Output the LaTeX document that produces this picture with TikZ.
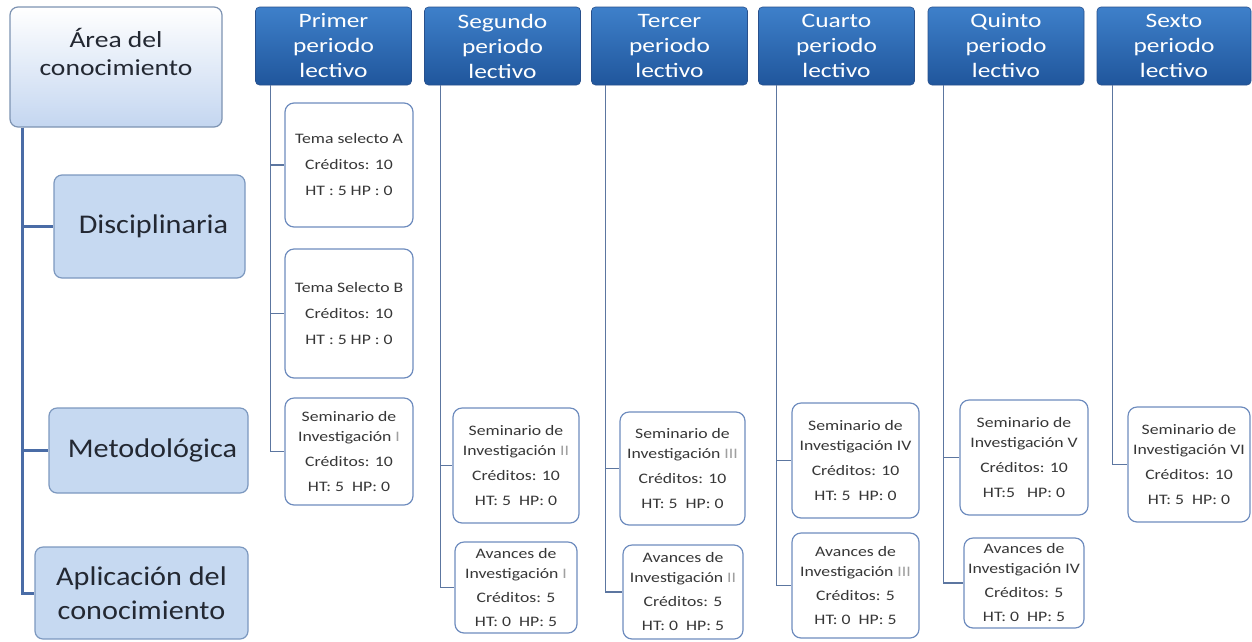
\documentclass[tikz,border=0pt]{standalone}
\usepackage{fontspec}
\setmainfont{Carlito}
\newfontfamily\crsfont[FakeStretch=1.22]{Carlito}
\newfontfamily\hdrfont[FakeStretch=1.24]{Carlito}
\newfontfamily\areafont[FakeStretch=1.2]{Carlito}
\newfontfamily\leftfont[FakeStretch=1.12]{Carlito}
\usetikzlibrary{calc}
\definecolor{hdrtop}{RGB}{62,128,202}
\definecolor{hdrbot}{RGB}{32,86,156}
\definecolor{hdrline}{RGB}{40,80,140}
\definecolor{lefill}{RGB}{198,217,241}
\definecolor{leline}{RGB}{124,152,191}
\definecolor{areabot}{RGB}{196,214,240}
\definecolor{crsline}{RGB}{110,140,190}
\definecolor{colline}{RGB}{92,118,160}
\definecolor{trunk}{RGB}{74,108,166}
\definecolor{txtdark}{RGB}{35,40,50}
\definecolor{crstxt}{RGB}{55,55,55}
\definecolor{numgray}{RGB}{160,160,160}
\newcommand{\gr}[1]{\textcolor{numgray}{#1}}
\begin{document}
\begin{tikzpicture}[x=1pt,y=-1pt,
  hdr/.style={rounded corners=4pt, top color=hdrtop, bottom color=hdrbot, draw=hdrline, line width=0.6pt,
    text=white, font={\hdrfont\fontsize{20.5}{25}\selectfont}, align=center, inner sep=0pt,
    minimum width=156pt, minimum height=78pt},
  areabox/.style={rounded corners=8pt, top color=white, bottom color=areabot, draw=leline!80!gray, line width=1.2pt,
    text=txtdark, font={\areafont\fontsize{23}{28}\selectfont}, inner sep=0pt},
  lbox/.style={rounded corners=8pt, fill=lefill, draw=leline, line width=1.2pt,
    text=txtdark, font={\leftfont\fontsize{27}{34}\selectfont}, align=center, inner sep=0pt},
  crs/.style={rounded corners=9pt, fill=white, draw=crsline, line width=1.2pt,
    text=crstxt, align=center, inner sep=0pt},
  tfont/.style={font={\crsfont\fontsize{14.5}{26}\selectfont}},
  sfont/.style={font={\crsfont\fontsize{14.5}{20}\selectfont}},
  col/.style={draw=colline, line width=1.3pt},
  trk/.style={draw=trunk, line width=3pt}
]
\useasboundingbox (0,0) rectangle (1252,641);

% left side
\node[areabox, minimum width=212pt, minimum height=120pt] (area) at (116,67)
  {\parbox[c][78pt][t]{200pt}{\centering Área del\\conocimiento}};
\node[lbox, minimum width=191pt, minimum height=103pt] (dis) at (149.5,226.5) {\hspace*{8pt}Disciplinaria};
\node[lbox, minimum width=199pt, minimum height=85pt] (met) at (148.5,450.5) {\hspace*{8pt}Metodológica};
\node[lbox, minimum width=213pt, minimum height=92pt] (apl) at (141.5,593) {Aplicación del\\conocimiento};

\coordinate (tr) at ($(area.south west)+(13,0)$);
\draw[trk] (tr) |- (dis.west);
\draw[trk] (tr) |- (met.west);
\draw[trk] (tr) |- (apl.west);

% headers
\node[hdr] (h1) at (333.5,46) {Primer\\periodo\\lectivo};
\node[hdr] (h2) at (502.5,46) {Segundo\\periodo\\lectivo};
\node[hdr] (h3) at (669.5,46) {Tercer\\periodo\\lectivo};
\node[hdr] (h4) at (836.5,46) {Cuarto\\periodo\\lectivo};
\node[hdr] (h5) at (1006,46) {Quinto\\periodo\\lectivo};
\node[hdr, minimum width=154pt] (h6) at (1174,46) {Sexto\\periodo\\lectivo};

% course boxes
\node[crs, tfont, minimum width=128pt, minimum height=124pt] (tA) at (349,165) {Tema selecto A\\Créditos: 10\\HT : 5 HP : 0};
\node[crs, tfont, minimum width=128pt, minimum height=129pt] (tB) at (349,313.5) {Tema Selecto B\\Créditos: 10\\HT : 5 HP : 0};
\node[crs, sfont, minimum width=128pt, minimum height=107pt] (s1) at (349,451.5) {Seminario de\\Investigación \gr{I}\\[5pt]Créditos: 10\\[5pt]HT: 5~~HP: 0};

\node[crs, sfont, minimum width=126pt, minimum height=115pt] (s2) at (516,465.5) {Seminario de\\Investigación \gr{II}\\[5pt]Créditos: 10\\[5pt]HT: 5~~HP: 0};
\node[crs, sfont, minimum width=122pt, minimum height=91pt] (a1) at (516,587.5) {Avances de\\Investigación \gr{I}\\[4pt]Créditos: 5\\[4pt]HT: 0~~HP: 5};

\node[crs, sfont, minimum width=125pt, minimum height=113pt] (s3) at (682.5,468.5) {Seminario de\\Investigación \gr{III}\\[5pt]Créditos: 10\\[5pt]HT: 5~~HP: 0};
\node[crs, sfont, minimum width=120pt, minimum height=94pt] (a2) at (683,592) {Avances de\\Investigación \gr{II}\\[4pt]Créditos: 5\\[4pt]HT: 0~~HP: 5};

\node[crs, sfont, minimum width=127pt, minimum height=115pt] (s4) at (855.5,460.5) {Seminario de\\Investigación IV\\[5pt]Créditos: 10\\[5pt]HT: 5~~HP: 0};
\node[crs, sfont, minimum width=127pt, minimum height=105pt] (a3) at (855.5,585.5) {Avances de\\Investigación \gr{III}\\[4pt]Créditos: 5\\[4pt]HT: 0~~HP: 5};

\node[crs, sfont, minimum width=128pt, minimum height=115pt] (s5) at (1024,457.5) {Seminario de\\Investigación V\\[5pt]Créditos: 10\\[5pt]HT:5~~~HP: 0};
\node[crs, sfont, minimum width=120pt, minimum height=90pt] (a4) at (1024,583) {Avances de\\Investigación IV\\[4pt]Créditos: 5\\[4pt]HT: 0~~HP: 5};

\node[crs, sfont, minimum width=122pt, minimum height=115pt] (s6) at (1189,464.5) {Seminario de\\Investigación VI\\[5pt]Créditos: 10\\[5pt]HT: 5~~HP: 0};

% column connectors
\coordinate (c1) at ($(h1.south west)+(15,0)$);
\coordinate (c2) at ($(h2.south west)+(16,0)$);
\coordinate (c3) at ($(h3.south west)+(14,0)$);
\coordinate (c4) at ($(h4.south west)+(18,0)$);
\coordinate (c5) at ($(h5.south west)+(16,0)$);
\coordinate (c6) at ($(h6.south west)+(16,0)$);
\draw[col] (c1) |- (tA.west);
\draw[col] (c1) |- (tB.west);
\draw[col] (c1) |- (s1.west);
\draw[col] (c2) |- (s2.west);
\draw[col] (c2) |- (a1.west);
\draw[col] (c3) |- (s3.west);
\draw[col] (c3) |- (a2.west);
\draw[col] (c4) |- (s4.west);
\draw[col] (c4) |- (a3.west);
\draw[col] (c5) |- (s5.west);
\draw[col] (c5) |- (a4.west);
\draw[col] (c6) |- (s6.west);
\end{tikzpicture}
\end{document}
